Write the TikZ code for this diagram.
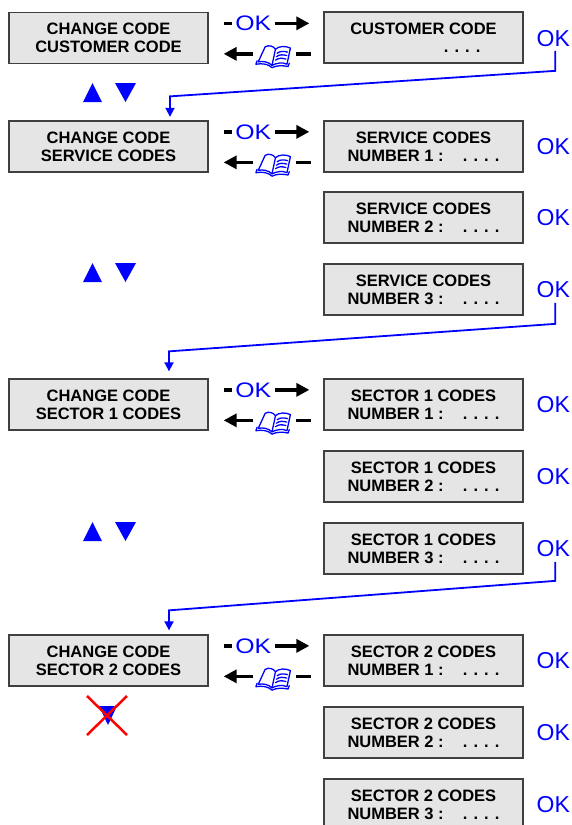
\documentclass[tikz,border=0pt]{standalone}
\usepackage{fontspec}
\setmainfont{Liberation Sans}
\usetikzlibrary{arrows.meta,calc}
\newcommand\bookshape[1]{%
 \begin{scope}[shift={(#1.center)}, scale=1.15, shift={(-15,-9)}, blue, line width=1.3pt, line join=round, line cap=round]
  \draw (1,15) -- (0,18) .. controls (6,17) and (11,18) .. (14,21) .. controls (18,19) and (23,19) .. (28,20) -- (29,17);
  \draw (2,16) -- (8,3) .. controls (11,1) and (15,2) .. (17,5) -- (14,19) .. controls (11,16) and (6,15) .. (2,16) -- cycle;
  \draw (17,5) .. controls (20,2) and (26,2) .. (30,4) -- (27,18) .. controls (23,16) and (18,17) .. (14,19);
  \draw (18.5,8.5) .. controls (21,6.5) and (24,6.5) .. (27.5,7.5);
  \draw (17.8,11.5) .. controls (20.3,9.5) and (23.3,9.5) .. (26.8,10.5);
  \draw (17.1,14.5) .. controls (19.6,12.5) and (22.6,12.5) .. (26.1,13.5);
 \end{scope}}
\newcommand\okrow[3]{%
 \node[okm, anchor=west] (okm#3) at ($(#1.north east)+(26.5,11.5)$) {\scalebox{1.18}[1]{OK}};
 \draw[bar] ($(okm#3.west)+(-11.5,0)$) -- ++(8,0);
 \draw[big] ($(okm#3.east)+(4,0)$) -- ($(#2.west |- okm#3.east)+(-14,0)$);
 \node[bookn] (bk#3) at ($(#1.north east)+(64.5,42)$) {};
 \bookshape{bk#3}
 \draw[big] ($(bk#3.west)+(-2,0)$) -- ($(#1.east |- bk#3.west)+(15,0)$);
 \draw[bar] ($(bk#3.east)+(5,0)$) -- ++(15,0);
}
\newcommand\navpair[1]{%
 \fill[blue] (83,#1+19) -- (102,#1+19) -- (92.5,#1) -- cycle;
 \fill[blue] (115,#1) -- (136,#1) -- (125.5,#1+19) -- cycle;
}
\begin{document}
\begin{tikzpicture}[x=1pt,y=-1pt,
  box/.style={draw=black!75, line width=1.3pt, fill=black!10, minimum width=199pt,
    minimum height=51pt, inner sep=0pt, align=center,
    font=\fontsize{16.5}{18}\selectfont\bfseries},
  okm/.style={inner sep=0pt, text=blue, font=\fontsize{21}{22}\selectfont},
  okr/.style={inner sep=0pt, text=blue, font=\fontsize{23}{24}\selectfont, anchor=west},
  bookn/.style={inner sep=0pt, minimum width=35pt, minimum height=16pt},
  bar/.style={line width=3.5pt, black},
  big/.style={line width=3.5pt, black, -{Triangle[length=13pt,width=13pt]}},
  conn/.style={draw=blue, line width=1.8pt, -{Triangle[length=9pt,width=9pt]}}]
\useasboundingbox (0,0) rectangle (572,825);
\clip (0,0) rectangle (572,825);
% left boxes
\node[box] (lA) at (108.5,38) {CHANGE CODE\\CUSTOMER CODE};
\node[box] (lB) at (108.5,146.5) {CHANGE CODE\\SERVICE CODES};
\node[box] (lE) at (108.5,404.5) {CHANGE CODE\\SECTOR 1 CODES};
\node[box] (lH) at (108.5,660.5) {CHANGE CODE\\SECTOR 2 CODES};
% right boxes
\node[box] (rA) at (423.5,37.5) {CUSTOMER CODE\\\makebox[152pt]{\hfill. . . .\hspace{19pt}}};
\node[box] (rB) at (423.5,146.5) {SERVICE CODES\\\makebox[152pt]{NUMBER 1 :\hfill. . . .}};
\node[box] (rC) at (423.5,217.5) {SERVICE CODES\\\makebox[152pt]{NUMBER 2 :\hfill. . . .}};
\node[box] (rD) at (423.5,289.5) {SERVICE CODES\\\makebox[152pt]{NUMBER 3 :\hfill. . . .}};
\node[box] (rE) at (423.5,404.5) {SECTOR 1 CODES\\\makebox[152pt]{NUMBER 1 :\hfill. . . .}};
\node[box] (rF) at (423.5,476.5) {SECTOR 1 CODES\\\makebox[152pt]{NUMBER 2 :\hfill. . . .}};
\node[box] (rG) at (423.5,548.5) {SECTOR 1 CODES\\\makebox[152pt]{NUMBER 3 :\hfill. . . .}};
\node[box] (rH) at (423.5,660.5) {SECTOR 2 CODES\\\makebox[152pt]{NUMBER 1 :\hfill. . . .}};
\node[box] (rI) at (423.5,732.5) {SECTOR 2 CODES\\\makebox[152pt]{NUMBER 2 :\hfill. . . .}};
\node[box] (rJ) at (423.5,804.5) {SECTOR 2 CODES\\\makebox[152pt]{NUMBER 3 :\hfill. . . .}};
% right OK labels
\foreach \r/\yy in {A/38.5,B/146.5,C/217.5,D/289.5,E/404.5,F/476.5,G/548.5,H/660.5,I/732.5,J/804.5}
  \node[okr] (okr\r) at (536.5,\yy) {OK};
% OK / book rows
\okrow{lA}{rA}{A}
\okrow{lB}{rB}{B}
\okrow{lE}{rE}{E}
\okrow{lH}{rH}{H}
% navigation triangles
\navpair{83}
\navpair{263}
\navpair{522}
\fill[blue] (99,706) -- (117,706) -- (108,725) -- cycle;
\draw[red, line width=2.5pt] (87,696) -- (127,735) (87,735) -- (127,696);
% connectors
\draw[conn] ($(okrA.south)+(2,4)$) -- ++(0,20) -- ($(lB.north)+(61.5,-24)$) -- ($(lB.north)+(61.5,-3.5)$);
\draw[conn] ($(okrD.south)+(2,5)$) -- ++(0,21) -- ($(lE.north)+(60.5,-27)$) -- ($(lE.north)+(60.5,-7)$);
\draw[conn] ($(okrG.south)+(2,5)$) -- ++(0,19) -- ($(lH.north)+(60.5,-24)$) -- ($(lH.north)+(60.5,-4)$);
\end{tikzpicture}
\end{document}
